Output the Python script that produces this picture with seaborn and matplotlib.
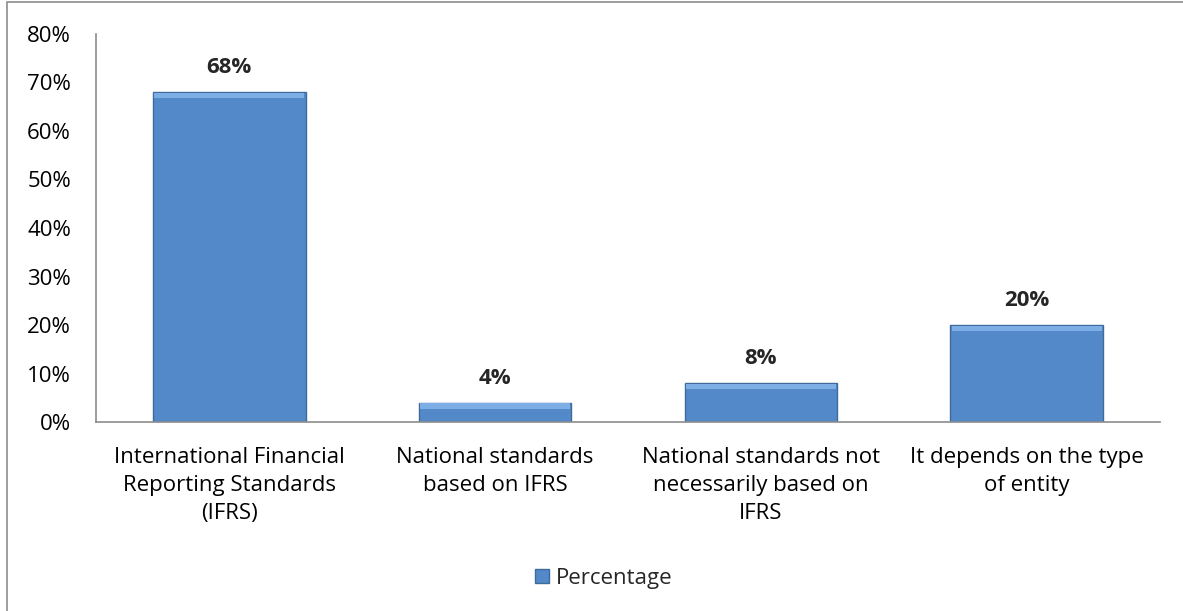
import matplotlib
matplotlib.use("Agg")
import matplotlib.pyplot as plt
import pandas as pd
import seaborn as sns
from matplotlib.patches import Rectangle
from matplotlib.ticker import PercentFormatter

categories = [
    "International Financial\nReporting Standards\n(IFRS)",
    "National standards\nbased on IFRS",
    "National standards not\nnecessarily based on\nIFRS",
    "It depends on the type\nof entity",
]
values = [68, 4, 8, 20]
series_name = "Percentage"

BAR_COLOR = "#5389C9"
EDGE_COLOR = "#3E6A9C"
TOP_COLOR = "#7DAFE6"
FS = 16

sns.set_theme(style="white")
plt.rcParams["font.family"] = ["Open Sans", "DejaVu Sans"]
plt.rcParams["font.size"] = FS

df = pd.DataFrame({"category": categories, "value": values, "series": series_name})

fig = plt.figure(figsize=(11.83, 6.11), dpi=100)
ax = fig.add_axes([0.0812, 0.3093, 0.8993, 0.6351])

sns.barplot(
    data=df, x="category", y="value", hue="series",
    palette=[BAR_COLOR], width=0.575, saturation=1, ax=ax,
    edgecolor=EDGE_COLOR, linewidth=1.0,
)

ax.set_ylim(0, 80)
ax.set_yticks(range(0, 81, 10))

# light bevel strip along the top of each bar
px_per_unit = ax.get_position().height * fig.get_figheight() * fig.dpi / 80
band = 6 / px_per_unit
for bar in ax.patches:
    x0, w, h = bar.get_x(), bar.get_width(), bar.get_height()
    ax.add_patch(Rectangle((x0 + w * 0.01, h - band), w * 0.98, band * 0.9,
                           facecolor=TOP_COLOR, edgecolor="none", zorder=3))

for container in ax.containers:
    ax.bar_label(container, labels=[f"{v}%" for v in values],
                 fontsize=FS, fontweight="bold", padding=10)

ax.yaxis.set_major_formatter(PercentFormatter(decimals=0))
ax.set_xlabel("")
ax.set_ylabel("")
ax.tick_params(axis="both", length=0, labelsize=FS, colors="black")
ax.tick_params(axis="x", pad=18)
ax.tick_params(axis="y", pad=18)
for lbl in ax.get_xticklabels():
    lbl.set_linespacing(1.45)

for side in ["top", "right"]:
    ax.spines[side].set_visible(False)
for side in ["left", "bottom"]:
    ax.spines[side].set_color("#8C8C8C")
    ax.spines[side].set_linewidth(1.2)

ax.legend(loc="center", bbox_to_anchor=(0.5105, 0.0535),
          bbox_transform=fig.transFigure, frameon=False,
          fontsize=FS, handlelength=0.65, handleheight=0.65, handletextpad=0.3)

# outer chart border
fig.patches.append(Rectangle((7 / 1183, -0.01), 1.0, 1.0 - 1.5 / 611 + 0.01,
                             transform=fig.transFigure, fill=False,
                             edgecolor="#8C8C8C", linewidth=1.2))

fig.savefig("out.png", dpi=100)
